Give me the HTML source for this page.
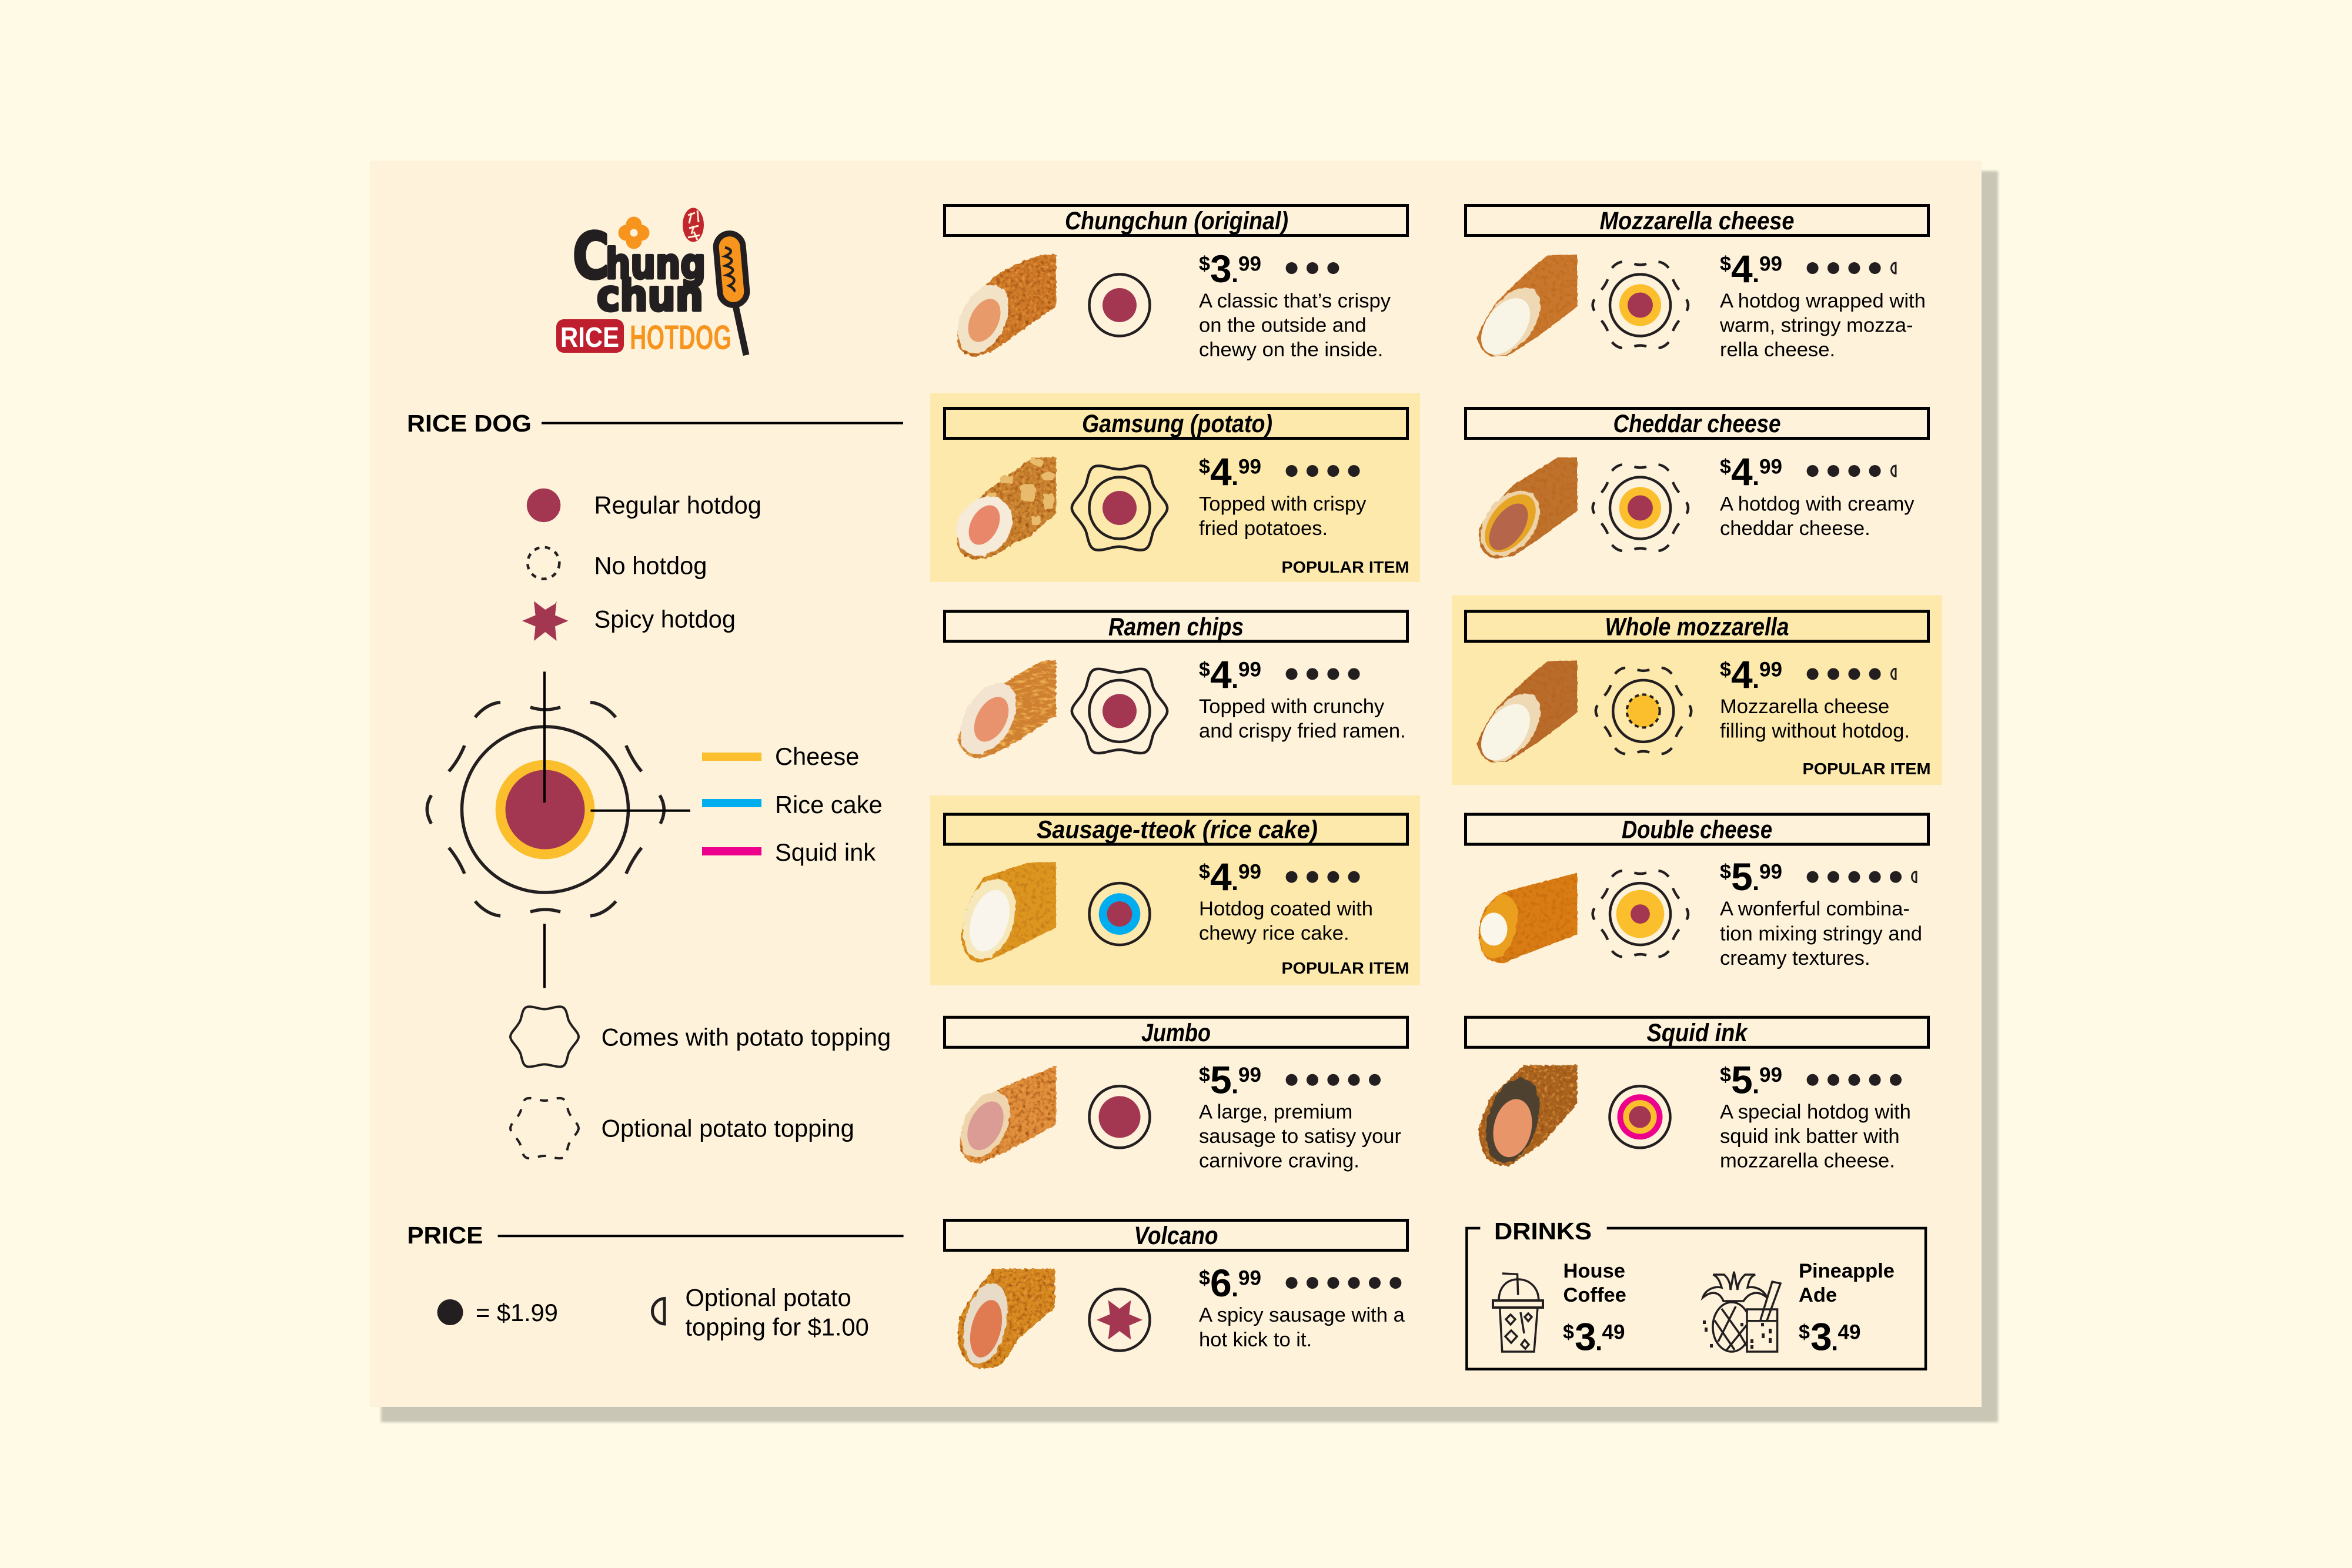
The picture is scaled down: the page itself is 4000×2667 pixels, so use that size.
<!DOCTYPE html>
<html lang="en">
<head>
<meta charset="utf-8">
<title>Chung Chun Rice Hotdog Menu</title>
<style>
html,body{margin:0;padding:0;background:#fffae6;width:4000px;height:2667px;overflow:hidden}
svg{display:block}
text{font-family:"Liberation Sans",Arial,sans-serif;fill:#000}
.h{font-size:43px;font-weight:700;font-style:italic;text-anchor:middle}
.t{font-size:34.6px}
.l{font-size:41.6px}
.s{font-size:41px;font-weight:700}
.d{font-size:34px;font-weight:700}
.n{font-size:66px;font-weight:700}
.p{font-size:44px;font-weight:700}
.c{font-size:35px;font-weight:700}
.pop{font-size:27.5px;font-weight:700}
.dk{font-size:34.5px;font-weight:700}
.hb{fill:none;stroke:#000;stroke-width:5}
.ol{fill:none;stroke:#231f20;stroke-width:4.5}
.dot{fill:#231f20}
.hf{fill:none;stroke:#231f20;stroke-width:3}
.logo{font-family:"DejaVu Sans","Liberation Sans",sans-serif;font-weight:700;fill:#231f20;stroke:#231f20;stroke-width:5;stroke-linejoin:round}
</style>
</head>
<body>
<svg xmlns="http://www.w3.org/2000/svg" width="4000" height="2667" viewBox="0 0 4000 2667">
<defs>
<filter id="sh" x="-2%" y="-2%" width="104%" height="104%"><feGaussianBlur stdDeviation="2"/></filter>
<filter id="cr" x="-5%" y="-5%" width="110%" height="110%" color-interpolation-filters="sRGB">
<feTurbulence type="fractalNoise" baseFrequency=".16" numOctaves="2" seed="4" result="n"/>
<feDisplacementMap in="SourceGraphic" in2="n" scale="6" xChannelSelector="R" yChannelSelector="G" result="g"/>
<feColorMatrix in="n" type="matrix" values="0 0 0 0 .62  0 0 0 0 .3  0 0 0 0 .06  2.4 0 0 0 -1.1" result="dk"/>
<feComposite in="dk" in2="g" operator="in" result="dk2"/>
<feColorMatrix in="n" type="matrix" values="0 0 0 0 .93  0 0 0 0 .62  0 0 0 0 .28  0 2.4 0 0 -1.25" result="lt"/>
<feComposite in="lt" in2="g" operator="in" result="lt2"/>
<feMerge><feMergeNode in="g"/><feMergeNode in="dk2"/><feMergeNode in="lt2"/></feMerge>
</filter>
<filter id="crs" x="-5%" y="-5%" width="110%" height="110%" color-interpolation-filters="sRGB">
<feTurbulence type="fractalNoise" baseFrequency=".14" numOctaves="2" seed="6" result="n"/>
<feDisplacementMap in="SourceGraphic" in2="n" scale="3" xChannelSelector="R" yChannelSelector="G" result="g"/>
<feColorMatrix in="n" type="matrix" values="0 0 0 0 .7  0 0 0 0 .36  0 0 0 0 .04  1.5 0 0 0 -.72" result="dk"/>
<feComposite in="dk" in2="g" operator="in" result="dk2"/>
<feMerge><feMergeNode in="g"/><feMergeNode in="dk2"/></feMerge>
</filter>
<filter id="crl" x="-5%" y="-5%" width="110%" height="110%" color-interpolation-filters="sRGB">
<feTurbulence type="fractalNoise" baseFrequency=".07 .2" numOctaves="3" seed="9" result="n"/>
<feDisplacementMap in="SourceGraphic" in2="n" scale="7" xChannelSelector="R" yChannelSelector="G" result="g"/>
<feColorMatrix in="n" type="matrix" values="0 0 0 0 .98  0 0 0 0 .76  0 0 0 0 .38  2.6 0 0 0 -1.25" result="s"/>
<feComposite in="s" in2="g" operator="in" result="t"/>
<feMerge><feMergeNode in="g"/><feMergeNode in="t"/></feMerge>
</filter>
<filter id="ro" x="-8%" y="-8%" width="116%" height="116%" color-interpolation-filters="sRGB">
<feTurbulence type="fractalNoise" baseFrequency=".09" numOctaves="2" seed="2" result="n"/>
<feDisplacementMap in="SourceGraphic" in2="n" scale="7" xChannelSelector="R" yChannelSelector="G"/>
</filter>
<path id="ring" fill="none" stroke="#231f20" d="M-25,-174 Q0,-166 26,-174 M-119,-157 Q-100,-180 -76,-182.5 M120,-157 Q101,-180 77,-182.5 M-137,-109 Q-147,-84 -163.6,-65 M137.8,-109 Q148,-84 164,-65 M-193.4,-24.3 Q-208,-1 -193.4,24 M195,-24.3 Q209,-1 196,24 M-163.6,65 Q-147,85 -137,109 M164,65 Q148,85 137.8,109 M-119,156 Q-100,178 -76,181 M120.6,156 Q101,178 77,181 M-25,174 Q0,166 26,174"/>
<path id="pot" fill="none" stroke="#231f20" d="M58,0 C58,8 46,16 41,28 C38,36 38,50 28,51 C18,52 10,47 0,47 C-10,47 -18,52 -28,51 C-38,50 -38,36 -41,28 C-46,16 -58,8 -58,0 C-58,-8 -46,-16 -41,-28 C-38,-36 -38,-50 -28,-51 C-18,-52 -10,-47 0,-47 C10,-47 18,-52 28,-51 C38,-50 38,-36 41,-28 C46,-16 58,-8 58,0 Z"/>
</defs>

<rect width="4000" height="2667" fill="#fffae6"/>
<rect x="648" y="291" width="2750" height="2128" fill="#c9c6b6" filter="url(#sh)"/>
<rect x="629" y="273.5" width="2741" height="2119.5" fill="#fef2da"/>

<rect x="1582" y="669" width="833" height="321" fill="#fde9ab"/>
<rect x="1582" y="1353" width="833" height="323" fill="#fde9ab"/>
<rect x="2469" y="1012.5" width="834" height="322.5" fill="#fde9ab"/>

<!-- LOGO -->
<g>
<g fill="#f7941e"><circle cx="1078" cy="382" r="13.5"/><circle cx="1078" cy="410" r="13.5"/><circle cx="1065" cy="396" r="13.5"/><circle cx="1091" cy="396" r="13.5"/><circle cx="1078" cy="396" r="12"/></g>
<circle cx="1078" cy="396" r="6.5" fill="#fef2da"/>
<ellipse cx="1179" cy="382.5" rx="18" ry="29" fill="#c1272d"/>
<path d="M1170,366 L1182,362 M1176,362 L1172,380 M1186,358 L1188,378 M1172,388 L1188,384 M1180,384 L1176,398 M1170,404 L1190,400 M1180,394 L1186,408" stroke="#fef2da" stroke-width="3" fill="none"/>
<text class="logo" x="974" y="473" font-size="108" textLength="62" lengthAdjust="spacingAndGlyphs">C</text>
<text class="logo" x="1030" y="473" font-size="70" textLength="170" lengthAdjust="spacingAndGlyphs">hung</text>
<text class="logo" x="1015" y="528" font-size="72" textLength="181" lengthAdjust="spacingAndGlyphs">chun</text>
<rect x="946" y="543" width="115" height="57" rx="13" fill="#be1e2d"/>
<text x="953" y="590" font-size="48" font-weight="700" textLength="100" lengthAdjust="spacingAndGlyphs" style="fill:#fff">RICE</text>
<text x="1071" y="594" font-size="58" font-weight="700" textLength="173" lengthAdjust="spacingAndGlyphs" style="fill:#f7941e">HOTDOG</text>
<path d="M1251,520 L1269,604" stroke="#231f20" stroke-width="11" fill="none"/>
<rect x="1221" y="397" width="46" height="122" rx="23" transform="rotate(-5 1244 458)" fill="#f7941e" stroke="#231f20" stroke-width="10"/>
<path d="M1233,421 C1246,424 1246,430 1233,436 C1248,440 1248,446 1234,452 C1250,456 1250,462 1236,468 C1252,472 1252,480 1240,486 C1248,490 1250,494 1248,496" fill="none" stroke="#231f20" stroke-width="4.5"/>
</g>

<!-- RICE DOG LEGEND -->
<text class="s" x="692" y="734" textLength="212" lengthAdjust="spacingAndGlyphs">RICE DOG</text>
<line x1="921" y1="719.6" x2="1536" y2="719.6" stroke="#000" stroke-width="4"/>
<circle cx="924.6" cy="859.4" r="28.7" fill="#a33751"/>
<text class="l" x="1010.5" y="873.6">Regular hotdog</text>
<circle cx="924.3" cy="957.7" r="27" fill="none" stroke="#231f20" stroke-width="4.5" stroke-dasharray="9 9.5"/>
<text class="l" x="1010.5" y="976.7">No hotdog</text>
<polygon fill="#a33751" points="927.3,1037 944,1027 946.6,1022.5 944,1046.5 966.5,1056 944,1065.5 946.6,1090 927.3,1075 908,1090 910.6,1065.5 888,1056 910.6,1046.5 908,1022.5"/>
<text class="l" x="1010.5" y="1067.3">Spicy hotdog</text>

<ellipse cx="927" cy="1377" rx="141.5" ry="141" fill="none" stroke="#231f20" stroke-width="5.5"/>
<circle cx="927" cy="1377" r="84.4" fill="#fbbf2d"/>
<circle cx="927" cy="1377" r="67.5" fill="#a33751"/>
<use href="#ring" x="927" y="1377" stroke-width="5.5"/>
<line x1="926" y1="1142.4" x2="926" y2="1365" stroke="#000" stroke-width="4"/>
<line x1="926" y1="1571.4" x2="926" y2="1680.4" stroke="#000" stroke-width="4"/>
<line x1="1004.5" y1="1378.7" x2="1174" y2="1378.7" stroke="#000" stroke-width="4"/>
<rect x="1194" y="1280" width="101" height="14" fill="#fbbf2d"/>
<rect x="1194" y="1359" width="101" height="14" fill="#00aeef"/>
<rect x="1194" y="1441" width="101" height="14" fill="#ec008c"/>
<text class="l" x="1318" y="1301">Cheese</text>
<text class="l" x="1318" y="1383">Rice cake</text>
<text class="l" x="1318" y="1464">Squid ink</text>
<use href="#pot" x="926" y="1763.4" stroke-width="4"/>
<text class="l" x="1022.6" y="1778.5">Comes with potato topping</text>
<use href="#pot" x="926" y="1919" stroke-width="4" stroke-dasharray="14 15"/>
<text class="l" x="1022.6" y="1933.5">Optional potato topping</text>

<!-- PRICE LEGEND -->
<text class="s" x="692.4" y="2115" textLength="129" lengthAdjust="spacingAndGlyphs">PRICE</text>
<line x1="846.6" y1="2102.3" x2="1536.6" y2="2102.3" stroke="#000" stroke-width="4"/>
<circle cx="765.6" cy="2232" r="22" fill="#231f20"/>
<text class="l" x="809" y="2247">= $1.99</text>
<path d="M1130,2208.5 A22,21.8 0 0 0 1130,2252 Z" fill="none" stroke="#231f20" stroke-width="5"/>
<text class="l" x="1165.5" y="2221.7">Optional potato</text>
<text class="l" x="1165.5" y="2271.7">topping for $1.00</text>

<!-- LEFT COLUMN -->
<!-- Chungchun -->
<g>
<rect class="hb" x="1606.5" y="349.5" width="787" height="51"/>
<text class="h" x="2001" y="390" textLength="380" lengthAdjust="spacingAndGlyphs">Chungchun (original)</text>
<g transform="translate(1626,433)">
<path filter="url(#cr)" fill="#cf7a28" d="M170,0 L143,1 C110,12 85,22 63,39 C45,60 28,72 20,88 C10,110 2,125 2,137 C2,150 2,155 6,159 C15,170 25,173 29,173 C50,170 60,165 75,155 L170,88 Z"/>
<ellipse filter="url(#ro)" cx="46" cy="110" rx="38" ry="62" transform="rotate(25 46 110)" fill="#f2e2c6"/>
<ellipse cx="48" cy="112" rx="24" ry="39" transform="rotate(26 48 112)" fill="#e99a6a"/>
</g>
<ellipse class="ol" cx="1904" cy="519" rx="51.5" ry="52.5"/>
<circle cx="1904" cy="519" r="29" fill="#a33751"/>
<text class="d" x="2039" y="460">$</text><text class="n" x="2058" y="480">3</text><text class="p" x="2094" y="480">.</text><text class="c" x="2106" y="460.5">99</text>
<circle class="dot" cx="2196.6" cy="456" r="10"/><circle class="dot" cx="2232" cy="456" r="10"/><circle class="dot" cx="2267.4" cy="456" r="10"/>
<text class="t" x="2039" y="523">A classic that’s crispy</text>
<text class="t" x="2039" y="564.5">on the outside and</text>
<text class="t" x="2039" y="606">chewy on the inside.</text>
</g>

<!-- Gamsung -->
<g transform="translate(0,345)">
<rect class="hb" x="1606.5" y="349.5" width="787" height="51"/>
<text class="h" x="2002" y="390" textLength="324" lengthAdjust="spacingAndGlyphs">Gamsung (potato)</text>
<g transform="translate(1626,433)">
<path filter="url(#cr)" fill="#c98430" d="M170,0 L130,0 C110,15 90,30 70,45 C45,60 25,85 15,105 C2,125 0,140 2,150 C8,165 20,173 35,173 C60,172 80,160 100,145 L125,135 L170,95 Z"/>
<g fill="#e8bc6c" filter="url(#ro)"><rect x="125" y="2" width="24" height="12" rx="5" transform="rotate(25 137 8)"/><rect x="145" y="25" width="22" height="14" rx="5"/><rect x="110" y="45" width="25" height="30" rx="6"/><rect x="148" y="62" width="18" height="26" rx="4"/><rect x="75" y="32" width="22" height="12" rx="4"/><rect x="50" y="60" width="18" height="16" rx="4"/><rect x="128" y="100" width="16" height="14" rx="4"/></g>
<ellipse filter="url(#ro)" cx="48" cy="117" rx="44" ry="54" transform="rotate(35 48 117)" fill="#f6ead8"/>
<ellipse cx="48" cy="115" rx="23" ry="36" transform="rotate(28 48 115)" fill="#e8876a"/>
</g>
<use href="#pot" transform="translate(1904,519) scale(1.4)" stroke-width="3.2"/>
<ellipse class="ol" cx="1904" cy="519" rx="51.5" ry="52.5"/>
<circle cx="1904" cy="519" r="29" fill="#a33751"/>
<text class="d" x="2039" y="460">$</text><text class="n" x="2058" y="480">4</text><text class="p" x="2094" y="480">.</text><text class="c" x="2106" y="460.5">99</text>
<circle class="dot" cx="2196.6" cy="456" r="10"/><circle class="dot" cx="2232" cy="456" r="10"/><circle class="dot" cx="2267.4" cy="456" r="10"/><circle class="dot" cx="2302.6" cy="456" r="10"/>
<text class="t" x="2039" y="523.5">Topped with crispy</text>
<text class="t" x="2039" y="565">fried potatoes.</text>
</g>
<text class="pop" x="2179.5" y="974" textLength="217" lengthAdjust="spacingAndGlyphs">POPULAR ITEM</text>

<!-- Ramen -->
<g transform="translate(0,690.4)">
<rect class="hb" x="1606.5" y="349.5" width="787" height="51"/>
<text class="h" x="2000" y="390" textLength="230" lengthAdjust="spacingAndGlyphs">Ramen chips</text>
<g transform="translate(1626,432)">
<path filter="url(#crl)" fill="#cf8030" d="M170,0 L146,2 L106,25 L43,62 C20,90 8,115 3,138 C8,155 25,168 40,168 C65,160 85,150 106,138 L170,95 Z"/>
<ellipse filter="url(#ro)" cx="55" cy="100" rx="40" ry="66" transform="rotate(30 55 100)" fill="#f2e4d0"/>
<ellipse cx="60" cy="101" rx="25" ry="41" transform="rotate(28 60 101)" fill="#e8936e"/>
</g>
<use href="#pot" transform="translate(1904,519) scale(1.4)" stroke-width="3.2"/>
<ellipse class="ol" cx="1904" cy="519" rx="51.5" ry="52.5"/>
<circle cx="1904" cy="519" r="29" fill="#a33751"/>
<text class="d" x="2039" y="459.5">$</text><text class="n" x="2058" y="479.5">4</text><text class="p" x="2094" y="479.5">.</text><text class="c" x="2106" y="460">99</text>
<circle class="dot" cx="2196.6" cy="456" r="10"/><circle class="dot" cx="2232" cy="456" r="10"/><circle class="dot" cx="2267.4" cy="456" r="10"/><circle class="dot" cx="2302.6" cy="456" r="10"/>
<text class="t" x="2039" y="522.5">Topped with crunchy</text>
<text class="t" x="2039" y="564">and crispy fried ramen.</text>
</g>

<!-- Sausage-tteok -->
<g transform="translate(0,1035.6)">
<rect class="hb" x="1606.5" y="349.5" width="787" height="51"/>
<text class="h" x="2002" y="390" textLength="478" lengthAdjust="spacingAndGlyphs">Sausage-tteok (rice cake)</text>
<g transform="translate(1626,430.5)">
<path filter="url(#crs)" fill="#dc9620" d="M170,0 L123,1 L49,25 C35,40 25,60 20,75 C12,100 8,120 9,133 C12,155 25,171 40,171 C60,170 110,140 170,112 Z"/>
<ellipse filter="url(#ro)" cx="56" cy="97" rx="42" ry="70" transform="rotate(16 56 97)" fill="#f7e8bb"/>
<ellipse cx="57" cy="100" rx="31" ry="54" transform="rotate(18 57 100)" fill="#f9f5ec"/>
</g>
<ellipse class="ol" cx="1904" cy="519" rx="51.5" ry="52.5"/>
<circle cx="1904" cy="519" r="35.3" fill="#00aeef"/>
<circle cx="1904" cy="519" r="21.5" fill="#a33751"/>
<text class="d" x="2039" y="458.5">$</text><text class="n" x="2058" y="478.5">4</text><text class="p" x="2094" y="478.5">.</text><text class="c" x="2106" y="459">99</text>
<circle class="dot" cx="2196.6" cy="456" r="10"/><circle class="dot" cx="2232" cy="456" r="10"/><circle class="dot" cx="2267.4" cy="456" r="10"/><circle class="dot" cx="2302.6" cy="456" r="10"/>
<text class="t" x="2039" y="521.5">Hotdog coated with</text>
<text class="t" x="2039" y="563">chewy rice cake.</text>
</g>
<text class="pop" x="2179.5" y="1656" textLength="217" lengthAdjust="spacingAndGlyphs">POPULAR ITEM</text>

<!-- Jumbo -->
<g transform="translate(0,1380.8)">
<rect class="hb" x="1606.5" y="349.5" width="787" height="51"/>
<text class="h" x="2000" y="390" textLength="118" lengthAdjust="spacingAndGlyphs">Jumbo</text>
<g transform="translate(1626,432)">
<path filter="url(#cr)" fill="#e08f3c" d="M170,0 L78,37 L26,73 C15,95 8,115 6,131 C8,150 20,167 37,167 C70,155 115,130 170,100 Z"/>
<ellipse filter="url(#ro)" cx="50" cy="100" rx="36" ry="60" transform="rotate(27 50 100)" fill="#efd5ad"/>
<ellipse cx="50" cy="102" rx="27" ry="44" transform="rotate(25 50 102)" fill="#dc9c96"/>
</g>
<ellipse class="ol" cx="1904" cy="519" rx="51.5" ry="52.5"/>
<circle cx="1904" cy="519" r="35.5" fill="#a33751"/>
<text class="d" x="2039" y="458.5">$</text><text class="n" x="2058" y="478.5">5</text><text class="p" x="2094" y="478.5">.</text><text class="c" x="2106" y="459">99</text>
<circle class="dot" cx="2196.6" cy="456" r="10"/><circle class="dot" cx="2232" cy="456" r="10"/><circle class="dot" cx="2267.4" cy="456" r="10"/><circle class="dot" cx="2302.6" cy="456" r="10"/><circle class="dot" cx="2338" cy="456" r="10"/>
<text class="t" x="2039" y="521.5">A large, premium</text>
<text class="t" x="2039" y="563">sausage to satisy your</text>
<text class="t" x="2039" y="604.5">carnivore craving.</text>
</g>

<!-- Volcano -->
<g transform="translate(0,1726)">
<rect class="hb" x="1606.5" y="349.5" width="787" height="51"/>
<text class="h" x="2000" y="390" textLength="143" lengthAdjust="spacingAndGlyphs">Volcano</text>
<g transform="translate(1629,432)">
<path filter="url(#cr)" fill="#d68a1e" d="M165,0 L60,0 L49,16 C30,35 15,60 3,82 C0,100 0,115 0,129 C8,150 20,165 34,169 C50,170 65,168 75,162 C85,148 95,135 103,119 L165,66 Z"/>
<ellipse filter="url(#ro)" cx="47" cy="93" rx="35" ry="70" transform="rotate(13 47 93)" fill="#e8dcc8"/>
<ellipse cx="48" cy="102" rx="25" ry="50" transform="rotate(14 48 102)" fill="#e07a50"/>
</g>
<ellipse class="ol" cx="1904" cy="519" rx="51.5" ry="52.5"/>
<polygon fill="#a33751" points="1904,500 1923.3,485.5 1920.5,509.5 1943,519 1920.5,528.5 1923.3,552.5 1904,538 1884.7,552.5 1887.5,528.5 1865,519 1887.5,509.5 1884.7,485.5"/>
<text class="d" x="2039" y="459">$</text><text class="n" x="2058" y="479">6</text><text class="p" x="2094" y="479">.</text><text class="c" x="2106" y="459.5">99</text>
<circle class="dot" cx="2196.6" cy="456" r="10"/><circle class="dot" cx="2232" cy="456" r="10"/><circle class="dot" cx="2267.4" cy="456" r="10"/><circle class="dot" cx="2302.6" cy="456" r="10"/><circle class="dot" cx="2338" cy="456" r="10"/><circle class="dot" cx="2373.4" cy="456" r="10"/>
<text class="t" x="2039" y="522">A spicy sausage with a</text>
<text class="t" x="2039" y="564">hot kick to it.</text>
</g>

<!-- RIGHT COLUMN -->
<!-- Mozzarella -->
<g transform="translate(886,0)">
<rect class="hb" x="1606.5" y="349.5" width="787" height="51"/>
<text class="h" x="2000" y="390" textLength="331" lengthAdjust="spacingAndGlyphs">Mozzarella cheese</text>
<g transform="translate(1624.5,433)">
<path filter="url(#crs)" fill="#c8772c" d="M172,0 L122,1 C90,25 60,55 36,79 C20,100 8,125 1,142 C5,158 15,170 27,173 L53,172 C95,148 135,118 172,88 Z"/>
<ellipse filter="url(#ro)" cx="60" cy="114" rx="38" ry="66" transform="rotate(36 60 114)" fill="#efd9b5"/>
<ellipse cx="50" cy="122" rx="33" ry="54" transform="rotate(36 50 122)" fill="#f8f5e6"/>
</g>
<use href="#ring" transform="translate(1903.5,519) scale(.403)" stroke-width="11"/>
<ellipse class="ol" cx="1903.5" cy="519" rx="51.5" ry="52.5"/>
<circle cx="1903.5" cy="519" r="35.6" fill="#fbbf2d"/>
<circle cx="1903.5" cy="519" r="21.5" fill="#a33751"/>
<text class="d" x="2039" y="460">$</text><text class="n" x="2058" y="480">4</text><text class="p" x="2094" y="480">.</text><text class="c" x="2106" y="460.5">99</text>
<circle class="dot" cx="2196.6" cy="456" r="10"/><circle class="dot" cx="2232" cy="456" r="10"/><circle class="dot" cx="2267.4" cy="456" r="10"/><circle class="dot" cx="2302.6" cy="456" r="10"/>
<path class="hf" d="M2338,447 A7.5,9 0 0 0 2338,465 Z"/>
<text class="t" x="2039" y="523">A hotdog wrapped with</text>
<text class="t" x="2039" y="564.5">warm, stringy mozza-</text>
<text class="t" x="2039" y="606">rella cheese.</text>
</g>

<!-- Cheddar -->
<g transform="translate(886,345)">
<rect class="hb" x="1606.5" y="349.5" width="787" height="51"/>
<text class="h" x="2000" y="390" textLength="285" lengthAdjust="spacingAndGlyphs">Cheddar cheese</text>
<g transform="translate(1624.5,433)">
<path filter="url(#crs)" fill="#bf722c" d="M172,0 L139,0 L64,46 C40,70 18,98 4,122 L7,153 C15,165 25,172 36,172 L64,167 C100,145 135,118 172,91 Z"/>
<ellipse filter="url(#ro)" cx="58" cy="112" rx="42" ry="62" transform="rotate(37 58 112)" fill="#eed3a8"/>
<ellipse cx="58" cy="112" rx="34" ry="56" transform="rotate(37 58 112)" fill="#e6a525"/>
<ellipse cx="55" cy="118" rx="25" ry="45" transform="rotate(35 55 118)" fill="#b5654a"/>
</g>
<use href="#ring" transform="translate(1903.5,519) scale(.403)" stroke-width="11"/>
<ellipse class="ol" cx="1903.5" cy="519" rx="51.5" ry="52.5"/>
<circle cx="1903.5" cy="519" r="35.6" fill="#fbbf2d"/>
<circle cx="1903.5" cy="519" r="21.5" fill="#a33751"/>
<text class="d" x="2039" y="460">$</text><text class="n" x="2058" y="480">4</text><text class="p" x="2094" y="480">.</text><text class="c" x="2106" y="460.5">99</text>
<circle class="dot" cx="2196.6" cy="456" r="10"/><circle class="dot" cx="2232" cy="456" r="10"/><circle class="dot" cx="2267.4" cy="456" r="10"/><circle class="dot" cx="2302.6" cy="456" r="10"/>
<path class="hf" d="M2338,447 A7.5,9 0 0 0 2338,465 Z"/>
<text class="t" x="2039" y="523.5">A hotdog with creamy</text>
<text class="t" x="2039" y="565">cheddar cheese.</text>
</g>

<!-- Whole mozzarella -->
<g transform="translate(886,690.4)">
<rect class="hb" x="1606.5" y="349.5" width="787" height="51"/>
<text class="h" x="2000" y="390" textLength="313" lengthAdjust="spacingAndGlyphs">Whole mozzarella</text>
<g transform="translate(1624.5,433)">
<path filter="url(#crs)" fill="#b96c2c" d="M172,0 L122,1 C90,25 60,55 36,79 C20,100 8,125 1,142 C5,158 15,170 27,173 L53,172 C95,148 135,118 172,88 Z"/>
<ellipse filter="url(#ro)" cx="60" cy="114" rx="38" ry="66" transform="rotate(36 60 114)" fill="#efd9b5"/>
<ellipse cx="50" cy="122" rx="33" ry="54" transform="rotate(36 50 122)" fill="#f8f5e6"/>
</g>
<use href="#ring" transform="translate(1908.7,519) scale(.403)" stroke-width="11"/>
<ellipse class="ol" cx="1908.7" cy="519" rx="51.5" ry="52.5"/>
<circle cx="1908.7" cy="519" r="28" fill="#fbbf2d" stroke="#231f20" stroke-width="4" stroke-dasharray="7 6"/>
<text class="d" x="2039" y="459.5">$</text><text class="n" x="2058" y="479.5">4</text><text class="p" x="2094" y="479.5">.</text><text class="c" x="2106" y="460">99</text>
<circle class="dot" cx="2196.6" cy="456" r="10"/><circle class="dot" cx="2232" cy="456" r="10"/><circle class="dot" cx="2267.4" cy="456" r="10"/><circle class="dot" cx="2302.6" cy="456" r="10"/>
<path class="hf" d="M2338,447 A7.5,9 0 0 0 2338,465 Z"/>
<text class="t" x="2039" y="522.5">Mozzarella cheese</text>
<text class="t" x="2039" y="564">filling without hotdog.</text>
</g>
<text class="pop" x="3065.5" y="1317" textLength="218" lengthAdjust="spacingAndGlyphs">POPULAR ITEM</text>

<!-- Double cheese -->
<g transform="translate(886,1035.6)">
<rect class="hb" x="1606.5" y="349.5" width="787" height="51"/>
<text class="h" x="2000" y="390" textLength="256" lengthAdjust="spacingAndGlyphs">Double cheese</text>
<g transform="translate(1624.5,448.8)">
<path filter="url(#crs)" fill="#d97c14" d="M172,0 L122,13 L47,33 C30,42 18,55 13,65 C7,80 4,95 4,105 C6,125 10,138 18,145 C28,152 38,154 47,154 C90,135 135,120 172,105 Z"/>
<ellipse filter="url(#ro)" cx="38" cy="92" rx="30" ry="56" transform="rotate(14 38 92)" fill="#eb9f1e"/>
<ellipse cx="30" cy="96" rx="23" ry="28" fill="#fbf6ea"/>
</g>
<use href="#ring" transform="translate(1903.5,519) scale(.403)" stroke-width="11"/>
<ellipse class="ol" cx="1903.5" cy="519" rx="51.5" ry="52.5"/>
<circle cx="1903.5" cy="519" r="40.8" fill="#fbbf2d"/>
<circle cx="1903.5" cy="519" r="16.4" fill="#a33751"/>
<text class="d" x="2039" y="458.5">$</text><text class="n" x="2058" y="478.5">5</text><text class="p" x="2094" y="478.5">.</text><text class="c" x="2106" y="459">99</text>
<circle class="dot" cx="2196.6" cy="456" r="10"/><circle class="dot" cx="2232" cy="456" r="10"/><circle class="dot" cx="2267.4" cy="456" r="10"/><circle class="dot" cx="2302.6" cy="456" r="10"/><circle class="dot" cx="2338" cy="456" r="10"/>
<path class="hf" d="M2373,447 A7.5,9 0 0 0 2373,465 Z"/>
<text class="t" x="2039" y="521.5">A wonferful combina-</text>
<text class="t" x="2039" y="564">tion mixing stringy and</text>
<text class="t" x="2039" y="605.5">creamy textures.</text>
</g>

<!-- Squid ink -->
<g transform="translate(886,1380.8)">
<rect class="hb" x="1606.5" y="349.5" width="787" height="51"/>
<text class="h" x="2000" y="390" textLength="171" lengthAdjust="spacingAndGlyphs">Squid ink</text>
<g transform="translate(1628.5,431)">
<path filter="url(#cr)" fill="#a8641f" d="M168,0 L77,0 L20,55 C10,80 3,95 0,112 C2,135 8,148 14,158 C22,165 30,171 52,171 L110,132 L168,65 Z"/>
<ellipse filter="url(#ro)" cx="58" cy="94" rx="42" ry="74" transform="rotate(16 58 94)" fill="#4f4130"/>
<ellipse cx="58" cy="107" rx="32" ry="50" transform="rotate(12 58 107)" fill="#e9956a"/>
</g>
<ellipse class="ol" cx="1903" cy="519" rx="51.5" ry="52.5"/>
<circle cx="1903" cy="519" r="38.5" fill="#ec008c"/>
<circle cx="1903" cy="519" r="28.7" fill="#fbbf2d"/>
<circle cx="1903" cy="519" r="18.7" fill="#a33751"/>
<text class="d" x="2039" y="458.5">$</text><text class="n" x="2058" y="478.5">5</text><text class="p" x="2094" y="478.5">.</text><text class="c" x="2106" y="459">99</text>
<circle class="dot" cx="2196.6" cy="456" r="10"/><circle class="dot" cx="2232" cy="456" r="10"/><circle class="dot" cx="2267.4" cy="456" r="10"/><circle class="dot" cx="2302.6" cy="456" r="10"/><circle class="dot" cx="2338" cy="456" r="10"/>
<text class="t" x="2039" y="521.5">A special hotdog with</text>
<text class="t" x="2039" y="563">squid ink batter with</text>
<text class="t" x="2039" y="604.5">mozzarella cheese.</text>
</g>

<!-- DRINKS -->
<path d="M2517.4,2089 H2494.4 V2328.7 H3275 V2089 H2732.7" fill="none" stroke="#000" stroke-width="4.5"/>
<text class="s" x="2541" y="2108" textLength="166" lengthAdjust="spacingAndGlyphs">DRINKS</text>
<g fill="none" stroke="#231f20" stroke-width="3.5">
<rect x="2539" y="2212" width="85" height="12" stroke-width="4"/>
<path d="M2549,2212 C2549,2190 2562,2176 2581.7,2176 C2601,2176 2616.7,2190 2616.7,2212"/>
<path d="M2554.7,2166 L2580.5,2167.3 L2581.7,2202.7"/>
<path d="M2550.7,2224 L2554.7,2299 H2609 L2615,2224"/>
<path d="M2569,2236 L2577,2244 L2569,2253 L2561,2244 Z M2599,2234 L2605,2240 L2599,2247 L2593,2240 Z M2570,2263 L2580,2273 L2570,2284 L2560,2273 Z M2593,2279 L2600,2287 L2594,2294 L2587,2287 Z M2586,2232 L2592,2268"/>
<path d="M2931,2213 C2925,2198 2912,2194 2896,2207 C2900,2194 2915,2187 2928,2190 C2925,2180 2922,2172 2913.5,2168 L2932,2168 C2940,2175 2943,2185 2943,2194 L2949,2163 L2955,2194 C2955,2185 2960,2175 2968,2168 L2985,2168 C2976,2172 2974,2180 2972,2190 C2985,2187 3000,2194 3005,2207 C2990,2194 2975,2198 2965,2213 Z"/>
<ellipse cx="2945" cy="2257" rx="32" ry="42"/>
<path d="M2928,2226 L2958,2268 L2971,2290 M2916,2246 L2950,2296 M2952,2222 L2922,2282 M2972,2252 L2935,2298"/>
<rect x="2971" y="2227" width="51.6" height="72" fill="#fef2da"/>
<path d="M2971,2246.7 H3022.6 M2994,2245 L3014,2180 L3028,2183 L3005,2246"/>
</g>
<g fill="#231f20"><rect x="2896" y="2246" width="5" height="6"/><rect x="2899" y="2258" width="5" height="7"/><rect x="2908" y="2286" width="5" height="6"/><rect x="2960" y="2250" width="5" height="6"/><rect x="2995" y="2250" width="5" height="6"/><rect x="3008" y="2260" width="5" height="8"/><rect x="2996" y="2268" width="5" height="8"/><rect x="2977" y="2278" width="5" height="6"/><rect x="2977" y="2288" width="5" height="6"/><rect x="3008" y="2276" width="5" height="8"/></g>
<text class="dk" x="2658.5" y="2173">House</text>
<text class="dk" x="2658.5" y="2214">Coffee</text>
<text class="d" x="2658" y="2277">$</text><text class="n" x="2678" y="2296.5">3</text><text class="p" x="2713" y="2296.5">.</text><text class="c" x="2724.5" y="2277.5">49</text>
<text class="dk" x="3059" y="2173">Pineapple</text>
<text class="dk" x="3059" y="2214">Ade</text>
<text class="d" x="3059" y="2277">$</text><text class="n" x="3079" y="2296.5">3</text><text class="p" x="3114" y="2296.5">.</text><text class="c" x="3125.5" y="2277.5">49</text>
</svg>
</body>
</html>
